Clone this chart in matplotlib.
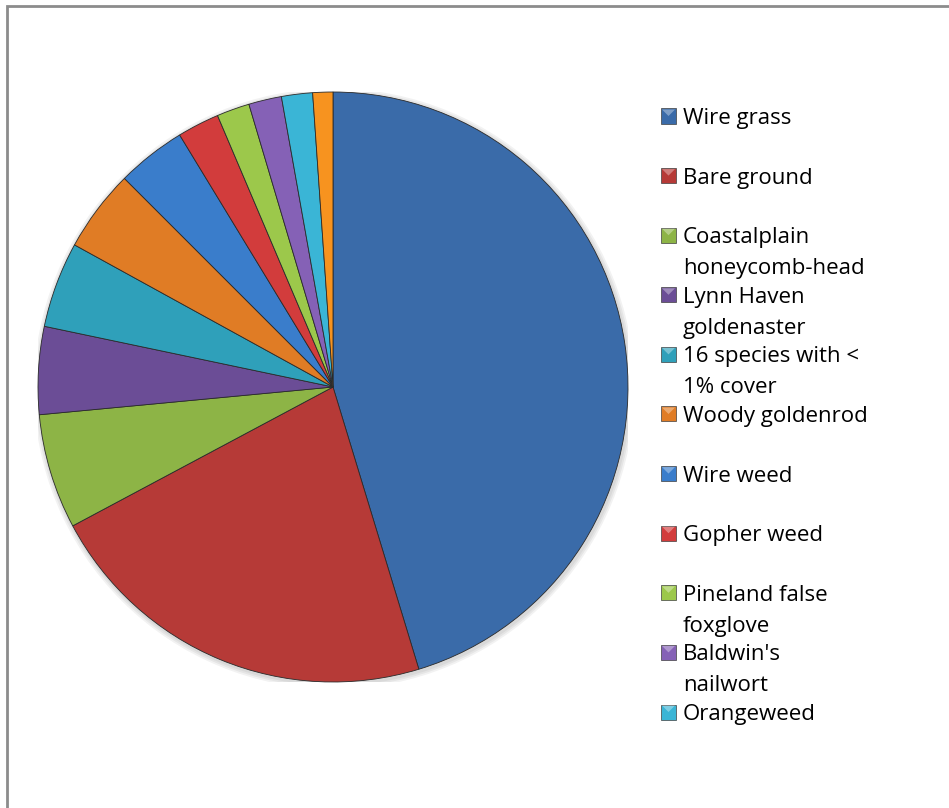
import matplotlib.pyplot as plt
from matplotlib.patches import Rectangle, Polygon

plt.rcParams['font.family'] = ['Open Sans', 'DejaVu Sans']

# Ground cover composition (percent of plot area)
species = ['Wire grass', 'Bare ground', 'Coastalplain\nhoneycomb-head',
           'Lynn Haven\ngoldenaster', '16 species with <\n1% cover',
           'Woody goldenrod', 'Wire weed', 'Gopher weed',
           'Pineland false\nfoxglove', "Baldwin's\nnailwort", 'Orangeweed',
           'Other']
cover = [45.3, 21.9, 6.3, 4.8, 4.7, 4.5, 3.8, 2.3, 1.8, 1.8, 1.7, 1.1]
colors = ['#3a6ba9', '#b63a37', '#8db446', '#6b4d96', '#2fa0ba', '#e07c25',
          '#3a7dcb', '#d23c3c', '#9cc84b', '#8561b6', '#3ab5d6', '#f7931f']
# only the first entries fit in the legend box
n_legend = 11

W, H = 949, 808
fig = plt.figure(figsize=(W / 100, H / 100), dpi=100)


def fx(x):
    return x / W


def fy(y):
    return 1 - y / H


# chart area border (runs off the right and bottom edges)
fig.patches.append(Rectangle((fx(7), fy(900)), 2.0, fy(6) - fy(900),
                             transform=fig.transFigure, fill=False,
                             edgecolor='#8c8c8c', lw=2))

cx, cy, r = 333, 387, 295
ax = fig.add_axes([fx(cx - r), fy(cy + r), 2 * r / W, 2 * r / H])

# soft shadow under the rim
for k in range(3):
    ax.add_patch(plt.Circle((0.004, -0.006), 1.0 + 0.006 * (k + 1),
                            color='black', alpha=0.05, lw=0, zorder=0))

wedges, _ = ax.pie(cover, colors=colors, startangle=90, counterclock=False,
                   radius=1.0, wedgeprops=dict(edgecolor='#2a2a2a', lw=0.6))
for w in wedges:
    w.set_zorder(2)
ax.set_xlim(-1.0, 1.0)
ax.set_ylim(-1.0, 1.0)
ax.axis('off')

# legend drawn entry by entry, constant pitch, marker beside first line
lx, ly0, pitch, line_gap = 661, 116, 59.6, 31
for i in range(n_legend):
    yc = ly0 + i * pitch
    c = colors[i]
    fig.patches.append(Rectangle((fx(lx), fy(yc + 7.5)), 15 / W, 15 / H,
                                 transform=fig.transFigure, facecolor=c,
                                 edgecolor='#404040', lw=0.5))
    fig.patches.append(Polygon([(fx(lx + 1), fy(yc - 6.5)), (fx(lx + 14), fy(yc - 6.5)),
                                (fx(lx + 7.5), fy(yc))],
                               transform=fig.transFigure, facecolor='white',
                               alpha=0.35, lw=0))
    for j, line in enumerate(species[i].split('\n')):
        fig.text(fx(683), fy(yc + j * line_gap), line, ha='left',
                 va='center_baseline', fontsize=16, color='black')

fig.savefig('out.png', dpi=100, facecolor='white')
